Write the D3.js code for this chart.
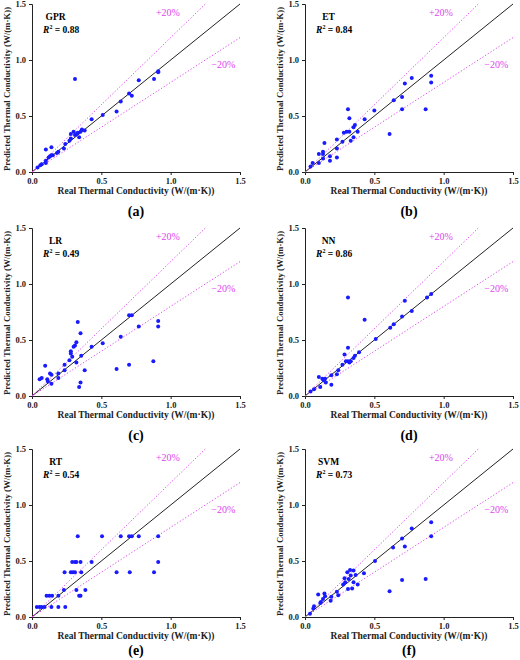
<!DOCTYPE html>
<html><head><meta charset="utf-8">
<script src="https://cdn.jsdelivr.net/npm/d3@7"></script>
<style>body{margin:0;background:#fff}</style></head>
<body><svg id="c" width="520" height="660"></svg>
<script>
const models = ["GPR","ET","LR","NN","RT","SVM"];
const r2 = ["0.88","0.84","0.49","0.86","0.54","0.73"];
const letters = ["(a)","(b)","(c)","(d)","(e)","(f)"];
const ticks = [0, 0.5, 1.0, 1.5];
const gprData = [[0.04,0.04],[0.06,0.06],[0.07,0.07],[0.10,0.08],[0.10,0.10],[0.12,0.13],[0.13,0.14],[0.14,0.15],[0.15,0.15],[0.10,0.20],[0.14,0.22],[0.18,0.17],[0.19,0.18],[0.23,0.21],[0.24,0.25],[0.27,0.28],[0.28,0.30],[0.28,0.34],[0.30,0.36],[0.31,0.33],[0.32,0.34],[0.33,0.35],[0.34,0.31],[0.35,0.36],[0.36,0.38],[0.38,0.37],[0.31,0.83],[0.43,0.47],[0.51,0.51],[0.61,0.54],[0.64,0.63],[0.70,0.70],[0.72,0.68],[0.77,0.82],[0.88,0.83],[0.91,0.89],[0.91,0.90]];
const etData = [[0.04,0.05],[0.055,0.08],[0.10,0.08],[0.10,0.16],[0.13,0.18],[0.13,0.16],[0.14,0.26],[0.13,0.12],[0.18,0.14],[0.18,0.10],[0.23,0.21],[0.23,0.29],[0.23,0.13],[0.27,0.27],[0.28,0.35],[0.30,0.36],[0.31,0.56],[0.32,0.36],[0.32,0.48],[0.33,0.28],[0.35,0.31],[0.35,0.40],[0.36,0.42],[0.38,0.36],[0.43,0.47],[0.50,0.55],[0.61,0.34],[0.64,0.64],[0.70,0.67],[0.70,0.56],[0.72,0.79],[0.77,0.84],[0.87,0.56],[0.91,0.86],[0.91,0.80]];
const lrData = [[0.055,0.15],[0.07,0.16],[0.095,0.27],[0.11,0.15],[0.115,0.13],[0.13,0.20],[0.14,0.19],[0.14,0.11],[0.19,0.20],[0.19,0.16],[0.235,0.28],[0.235,0.23],[0.27,0.32],[0.28,0.40],[0.28,0.38],[0.29,0.35],[0.30,0.44],[0.31,0.45],[0.32,0.48],[0.32,0.30],[0.33,0.66],[0.34,0.08],[0.35,0.12],[0.35,0.56],[0.355,0.36],[0.38,0.23],[0.43,0.44],[0.51,0.47],[0.61,0.24],[0.64,0.53],[0.70,0.28],[0.70,0.72],[0.72,0.72],[0.77,0.62],[0.875,0.31],[0.91,0.67],[0.91,0.62]];
const nnData = [[0.04,0.04],[0.065,0.06],[0.10,0.17],[0.11,0.08],[0.125,0.155],[0.135,0.14],[0.145,0.155],[0.15,0.12],[0.19,0.10],[0.19,0.185],[0.23,0.195],[0.24,0.23],[0.27,0.28],[0.285,0.37],[0.295,0.31],[0.31,0.31],[0.31,0.43],[0.31,0.88],[0.32,0.30],[0.33,0.31],[0.35,0.34],[0.36,0.36],[0.39,0.39],[0.43,0.68],[0.51,0.51],[0.615,0.61],[0.64,0.64],[0.70,0.71],[0.72,0.85],[0.77,0.76],[0.88,0.88],[0.91,0.91]];
const rtData = [[0.035,0.09],[0.055,0.09],[0.07,0.09],[0.09,0.09],[0.14,0.09],[0.19,0.09],[0.24,0.09],[0.105,0.19],[0.125,0.19],[0.145,0.19],[0.19,0.19],[0.34,0.19],[0.35,0.19],[0.23,0.24],[0.32,0.24],[0.385,0.24],[0.235,0.40],[0.28,0.40],[0.295,0.40],[0.31,0.40],[0.355,0.40],[0.61,0.40],[0.705,0.40],[0.88,0.40],[0.29,0.49],[0.31,0.49],[0.32,0.49],[0.35,0.49],[0.43,0.49],[0.91,0.49],[0.33,0.72],[0.505,0.72],[0.64,0.72],[0.70,0.72],[0.72,0.72],[0.77,0.72],[0.91,0.72]];
const svmData = [[0.036,0.03],[0.06,0.075],[0.065,0.095],[0.095,0.20],[0.11,0.125],[0.115,0.135],[0.13,0.16],[0.14,0.21],[0.145,0.185],[0.185,0.145],[0.19,0.18],[0.23,0.225],[0.24,0.195],[0.275,0.29],[0.285,0.345],[0.29,0.31],[0.305,0.40],[0.31,0.25],[0.315,0.34],[0.325,0.42],[0.33,0.37],[0.34,0.255],[0.35,0.415],[0.35,0.31],[0.365,0.375],[0.38,0.29],[0.425,0.39],[0.505,0.50],[0.61,0.23],[0.635,0.62],[0.70,0.70],[0.70,0.33],[0.72,0.63],[0.77,0.79],[0.87,0.34],[0.91,0.72],[0.91,0.845]];
const allData = [gprData, etData, lrData, nnData, rtData, svmData];

const svg = d3.select("#c");
const F = "'Liberation Serif','Times New Roman',serif";
const W = 208, H = 168;
const lefts = [32, 305];
const tops = [4, 228, 449];
const letterOff = [44, 44, 38];
const mag = "#dd44ee";

allData.forEach((data, i) => {
  const col = i % 2, row = Math.floor(i / 2);
  const g = svg.append("g").attr("transform", `translate(${lefts[col]},${tops[row]})`);
  const x = d3.scaleLinear().domain([0, 1.5]).range([0, W]);
  const y = d3.scaleLinear().domain([0, 1.5]).range([H, 0]);
  const xa = g.append("g").attr("transform", `translate(0,${H})`)
    .call(d3.axisBottom(x).tickValues(ticks).tickFormat(d3.format(".1f")).tickSize(3));
  const ya = g.append("g").call(d3.axisLeft(y).tickValues(ticks).tickFormat(d3.format(".1f")).tickSize(3));
  [xa, ya].forEach(a => {
    a.selectAll("text").attr("font-family", F).attr("font-weight", "bold").attr("font-size", 8.5).attr("fill", "#222");
    a.selectAll("line,path").attr("stroke", "#222");
  });
  g.append("line").attr("x1", x(0)).attr("y1", y(0)).attr("x2", x(1.5)).attr("y2", y(1.5))
    .attr("stroke", "#222").attr("stroke-width", 1);
  g.append("line").attr("x1", x(0)).attr("y1", y(0)).attr("x2", x(1.25)).attr("y2", y(1.5))
    .attr("stroke", mag).attr("stroke-width", 1).attr("stroke-dasharray", "1.2,2");
  g.append("line").attr("x1", x(0)).attr("y1", y(0)).attr("x2", x(1.5)).attr("y2", y(1.2))
    .attr("stroke", mag).attr("stroke-width", 1).attr("stroke-dasharray", "1.2,2");
  g.append("text").attr("x", x(0.98)).attr("y", y(1.39)).attr("font-family", F).attr("font-size", 10)
    .attr("fill", mag).attr("text-anchor", "middle").text("+20%");
  g.append("text").attr("x", x(1.38)).attr("y", y(0.93)).attr("font-family", F).attr("font-size", 10)
    .attr("fill", mag).attr("text-anchor", "middle").text("\u221220%");
  g.selectAll("circle").data(data).enter().append("circle")
    .attr("cx", d => x(d[0])).attr("cy", d => y(d[1])).attr("r", 2).attr("fill", "#1a1aff");
  g.append("text").attr("x", x(0.17)).attr("y", y(1.36)).attr("font-family", F).attr("font-weight", "bold")
    .attr("font-size", 9.5).attr("text-anchor", "middle").text(models[i]);
  const t = g.append("text").attr("x", x(0.08)).attr("y", y(1.24)).attr("font-family", F).attr("font-weight", "bold")
    .attr("font-size", 9.5);
  t.append("tspan").attr("font-style", "italic").text("R");
  t.append("tspan").attr("font-size", 6).attr("dy", -4).text("2");
  t.append("tspan").attr("dy", 4).text(" = " + r2[i]);
  g.append("text").attr("x", W / 2).attr("y", H + 22).attr("font-family", F).attr("font-weight", "bold")
    .attr("font-size", 9.5).attr("text-anchor", "middle").attr("fill", "#222").text("Real Thermal Conductivity (W/(m\u00b7K))");
  g.append("text").attr("transform", `translate(-22,${H / 2 + 1}) rotate(-90)`).attr("font-family", F)
    .attr("font-weight", "bold").attr("font-size", 8.8).attr("text-anchor", "middle").attr("fill", "#222")
    .text("Predicted Thermal Conductivity (W/(m\u00b7K))");
  g.append("text").attr("x", W / 2).attr("y", H + letterOff[row]).attr("font-family", F).attr("font-weight", "bold")
    .attr("font-size", 14).attr("text-anchor", "middle").text(letters[i]);
});
</script></body></html>
